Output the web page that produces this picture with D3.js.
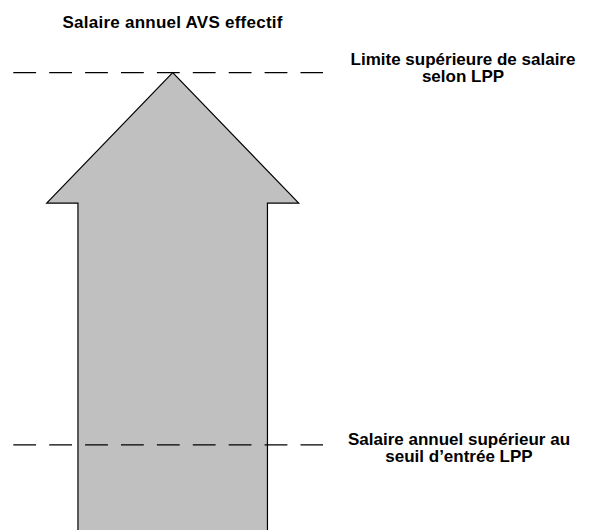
<!DOCTYPE html>
<html><head><meta charset="utf-8">
<script src="https://cdn.jsdelivr.net/npm/d3@7"></script>
<style>body{margin:0;background:#fff}svg{display:block}</style>
</head><body>
<script>
// Diagram data
const title = "Salaire annuel AVS effectif";
const levelNames = ["Limite supérieure de salaire|selon LPP", "Salaire annuel supérieur au|seuil d’entrée LPP"];
const levelValues = [100, 18.6];
const arrowHeadBase = 71.5;   // value where arrow head starts
const arrowValues = [0, 100]; // arrow spans from 0 to top

const W = 590, H = 530;
const svg = d3.select("body").append("svg").attr("width", W).attr("height", H);

const y = d3.scaleLinear().domain([0, 100]).range([530, 72.7]);
const x = d3.scaleLinear().domain([-1, 1]).range([46.7, 298.7]);
const shaftHalf = 0.752;

// Arrow
const p = d3.path();
p.moveTo(x(-shaftHalf), y(arrowValues[0]) + 5);
p.lineTo(x(-shaftHalf), y(arrowHeadBase));
p.lineTo(x(-1), y(arrowHeadBase));
p.lineTo(x(0), y(arrowValues[1]));
p.lineTo(x(1), y(arrowHeadBase));
p.lineTo(x(shaftHalf), y(arrowHeadBase));
p.lineTo(x(shaftHalf), y(arrowValues[0]) + 5);
svg.append("path").attr("d", p.toString())
  .attr("fill", "#c0c0c0").attr("stroke", "#000").attr("stroke-width", 1.2);

// Dashed level lines
svg.selectAll("line.lvl").data(levelValues).join("line")
  .attr("class", "lvl")
  .attr("x1", 13.3).attr("x2", 323)
  .attr("y1", d => y(d)).attr("y2", d => y(d))
  .attr("stroke", "#000").attr("stroke-width", 1.2)
  .attr("stroke-dasharray", "22.8 13.1");

const font = s => s.style("font-family", "'Liberation Sans', Arial, sans-serif")
  .style("font-weight", "bold").style("font-size", "17px");

// Title
svg.append("text").attr("x", 172.5).attr("y", 27.5)
  .attr("text-anchor", "middle").call(font)
  .attr("textLength", 220).attr("lengthAdjust", "spacing")
  .text(title);

// Level labels
const offsets = [-7.5, 0.5];
const cx = [463, 459];
levelNames.forEach((name, i) => {
  const lines = name.split("|");
  const t = svg.append("text").attr("text-anchor", "middle").call(font);
  lines.forEach((ln, j) => {
    t.append("tspan").attr("x", cx[i]).attr("y", y(levelValues[i]) + offsets[i] + j * 16.5).text(ln);
  });
});
</script>
</body></html>
